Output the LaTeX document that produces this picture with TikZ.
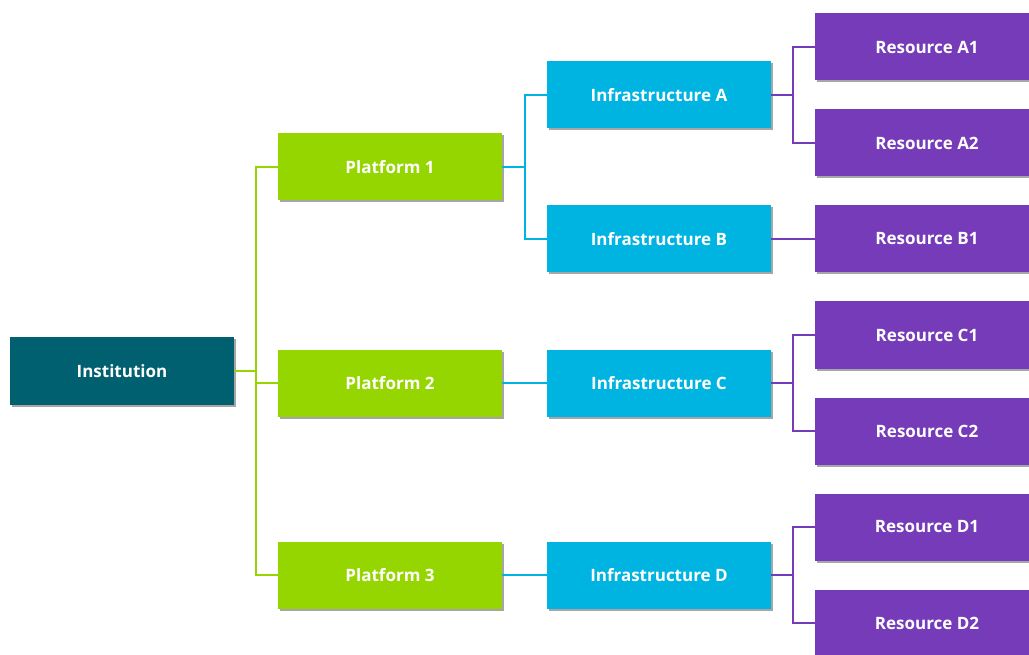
\documentclass[tikz,border=0pt]{standalone}
\usepackage{fontspec}
\setmainfont{Open Sans}
\usetikzlibrary{shadows,calc}

\definecolor{instcol}{RGB}{0,96,112}
\definecolor{platcol}{RGB}{149,214,0}
\definecolor{infracol}{RGB}{0,180,225}
\definecolor{rescol}{RGB}{117,59,185}

\begin{document}
\begin{tikzpicture}[x=1pt,y=-1pt]
    % `box' is the common look of every block.
    % `inst', `plat', `infra', `res' only set the fill colour of each level.
    % `link' is used for the elbow connectors.
    \tikzstyle{box} = [minimum width=224pt,minimum height=67pt,inner sep=0pt,
      text=white,font=\fontsize{17}{20}\selectfont\bfseries,
      drop shadow={shadow xshift=1.5pt,shadow yshift=-2pt,opacity=0.35,fill=black}]
    \tikzstyle{inst} = [box,fill=instcol]
    \tikzstyle{plat} = [box,fill=platcol]
    \tikzstyle{infra} = [box,fill=infracol]
    \tikzstyle{res} = [box,fill=rescol]
    \tikzstyle{link} = [line width=2pt]
    %
    \useasboundingbox (0,0) rectangle (1029,655);
    \clip (0,0) rectangle (1029,655);
    %
    \node[inst] (inst) at (122,371) {Institution};
    %
    \node[plat] (p1) at (390,167) {Platform 1};
    \node[plat] (p2) at (390,383) {Platform 2};
    \node[plat] (p3) at (390,575) {Platform 3};
    %
    \node[infra] (iA) at (659,95) {Infrastructure A};
    \node[infra] (iB) at (659,239) {Infrastructure B};
    \node[infra] (iC) at (659,383) {Infrastructure C};
    \node[infra] (iD) at (659,575) {Infrastructure D};
    %
    \node[res] (rA1) at (927,47) {Resource A1};
    \node[res] (rA2) at (927,143) {Resource A2};
    \node[res] (rB1) at (927,239) {Resource B1};
    \node[res] (rC1) at (927,335) {Resource C1};
    \node[res] (rC2) at (927,431) {Resource C2};
    \node[res] (rD1) at (927,527) {Resource D1};
    \node[res] (rD2) at (927,623) {Resource D2};
    %
    % Draw connectors.
    \foreach \c in {p1,p2,p3}
      \draw[link,draw=platcol] (inst.east) -- ++(22,0) |- (\c.west);
    \foreach \c in {iA,iB}
      \draw[link,draw=infracol] (p1.east) -- ++(22.5,0) |- (\c.west);
    \draw[link,draw=infracol] (p2.east) -- (iC.west);
    \draw[link,draw=infracol] (p3.east) -- (iD.west);
    \foreach \c in {rA1,rA2}
      \draw[link,draw=rescol] (iA.east) -- ++(22,0) |- (\c.west);
    \draw[link,draw=rescol] (iB.east) -- (rB1.west);
    \foreach \c in {rC1,rC2}
      \draw[link,draw=rescol] (iC.east) -- ++(22,0) |- (\c.west);
    \foreach \c in {rD1,rD2}
      \draw[link,draw=rescol] (iD.east) -- ++(22,0) |- (\c.west);
\end{tikzpicture}
\end{document}
